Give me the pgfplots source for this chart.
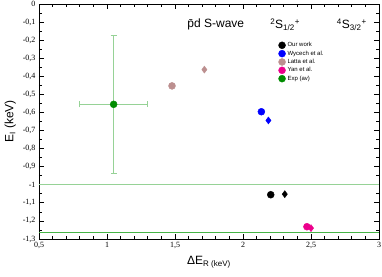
\documentclass[border=0pt]{standalone}
\usepackage{fontspec}
\setmainfont{Liberation Serif}
\newfontfamily\hel{Liberation Sans}
\usepackage{pgfplots}
\pgfplotsset{compat=1.18}
\definecolor{latta}{RGB}{188,143,143}
\definecolor{expg}{RGB}{0,140,0}
\definecolor{lgreen}{RGB}{150,210,150}
\definecolor{mgreen}{RGB}{70,180,70}
\begin{document}
\begin{tikzpicture}
\begin{axis}[
  scale only axis, width=340pt, height=235pt,
  xmin=0.5, xmax=3, ymin=-1.3, ymax=0,
  xtick={0.5,1,1.5,2,2.5,3},
  ytick={0,-0.1,-0.2,-0.3,-0.4,-0.5,-0.6,-0.7,-0.8,-0.9,-1,-1.1,-1.2,-1.3},
  minor x tick num=4, minor y tick num=1,
  tick align=inside, major tick length=5pt, minor tick length=3pt,
  tick style={black, line width=0.7pt},
  axis line style={line width=0.8pt},
  ticklabel style={font=\fontsize{8}{8}\selectfont},
  /pgf/number format/assume math mode=true,
  /pgf/number format/use comma,
  /pgf/number format/fixed,
  /pgf/number format/precision=1,
  xlabel={\hel ΔE\textsubscript{R (keV)}},
  ylabel={\hel E\textsubscript{I} (keV)},
  label style={font=\fontsize{12}{12}\selectfont},
  legend style={at={(axis cs:2.26,-0.2)}, anchor=north west, draw=none, fill=none,
    font=\hel\fontsize{6}{7}\selectfont, row sep=-1.5pt, inner sep=0pt},
  legend cell align=left,
]
\addplot[only marks, mark=*, mark size=3.5pt, black] coordinates {(2.204,-1.055)};
\addlegendentry{Our work}
\addplot[only marks, mark=*, mark size=3.5pt, blue] coordinates {(2.135,-0.596)};
\addlegendentry{Wycech et al.}
\addplot[only marks, mark=*, mark size=3.5pt, latta] coordinates {(1.478,-0.453)};
\addlegendentry{Latta et al.}
\addplot[only marks, mark=*, mark size=3.5pt, magenta] coordinates {(2.47,-1.232)};
\addlegendentry{Yan et al.}
\addplot[only marks, mark=*, mark size=3.5pt, expg,
  error bars/.cd, x dir=both, x explicit, y dir=both, y explicit,
  error bar style={lgreen, line width=0.9pt},
  error mark=|,
  error mark options={lgreen, mark size=3pt, line width=0.9pt}]
  coordinates {(1.049,-0.555) +- (0.25,0.38)};
\addlegendentry{Exp (av)}
\addplot[only marks, mark=diamond*, mark size=3.5pt, black, forget plot] coordinates {(2.307,-1.052)};
\addplot[only marks, mark=diamond*, mark size=3.5pt, blue, forget plot] coordinates {(2.187,-0.644)};
\addplot[only marks, mark=diamond*, mark size=3.5pt, latta, forget plot] coordinates {(1.716,-0.363)};
\addplot[only marks, mark=diamond*, mark size=3.5pt, magenta, forget plot] coordinates {(2.50,-1.24)};
\addplot[lgreen, line width=1.2pt, forget plot] coordinates {(0.5,-1) (3,-1)};
\addplot[mgreen, line width=0.9pt, forget plot] coordinates {(0.5,-1.265) (3,-1.265)};
\node[font=\hel\fontsize{12}{12}\selectfont] at (axis cs:1.80,-0.113) {p̄d S-wave};
\node[font=\hel\fontsize{12}{12}\selectfont] at (axis cs:2.31,-0.113) {\textsuperscript{2}S\textsubscript{1/2}\textsuperscript{+}};
\node[font=\hel\fontsize{12}{12}\selectfont] at (axis cs:2.80,-0.113) {\textsuperscript{4}S\textsubscript{3/2}\textsuperscript{+}};
\end{axis}
\pgfresetboundingbox
\path ([shift={(-39pt,-37pt)}]current axis.south west) rectangle ([shift={(3pt,4pt)}]current axis.north east);
\end{tikzpicture}
\end{document}
